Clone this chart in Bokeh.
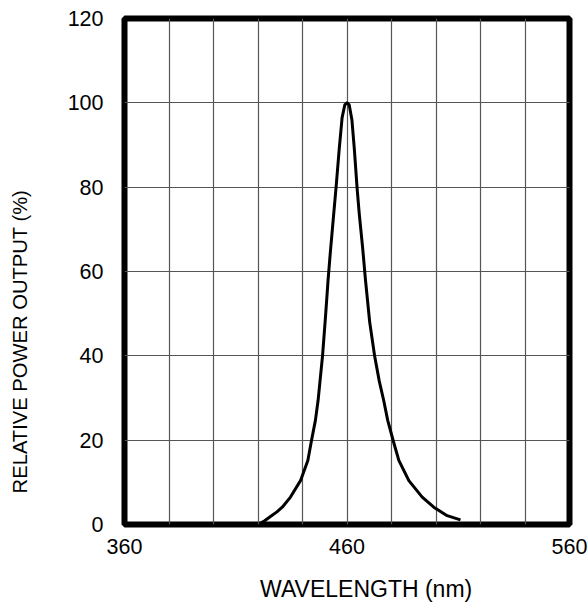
from bokeh.plotting import figure
from bokeh.models import Range1d, FixedTicker
from bokeh.embed import file_html
from bokeh.resources import INLINE

wavelength = [421, 423, 425.6, 428.5, 430.9, 434.6, 439.1, 442.4, 444, 445.8, 447, 449, 450.3,
              451.5, 452.5, 454, 455.1, 456.5, 457.8, 459, 460,
              461, 462.2, 463.3, 464.5, 465.5, 467, 468.3, 470.2, 472.4, 474.5, 476.5,
              478.3, 480.8, 483.3, 487.8, 493.8, 499, 505, 511]
power = [0.3, 0.9, 1.9, 3.0, 4.1, 6.5, 10.4, 15.2, 19.8, 24.7, 29.4, 40, 49,
         58, 64.5, 73.5, 80, 89, 96.5, 99.5, 100,
         99.5, 96, 89, 80, 73.7, 65.8, 58, 48, 40, 34, 29.4,
         24.7, 19.8, 15.2, 10.4, 6.5, 4.1, 2.1, 1.1]

x_tick_labels = [360, 460, 560]
x_grid = list(range(360, 561, 20))
y_ticks = list(range(0, 121, 20))
x_title = "WAVELENGTH (nm)"
y_title = "RELATIVE POWER OUTPUT (%)"

FONT = "Liberation Sans"
NBSP = "\u00a0"

p = figure(width=588, height=604, output_backend="svg", toolbar_location=None,
           x_range=Range1d(360, 560), y_range=Range1d(0, 120),
           min_border_left=124, min_border_right=19, min_border_top=18, min_border_bottom=80)

p.line(wavelength, power, line_color="black", line_width=3, line_join="round")

p.outline_line_color = "black"
p.outline_line_width = 6
p.outline_line_alpha = 1.0

p.xaxis.ticker = FixedTicker(ticks=x_tick_labels)
p.yaxis.ticker = FixedTicker(ticks=y_ticks)
p.xgrid.ticker = FixedTicker(ticks=x_grid)
p.ygrid.ticker = FixedTicker(ticks=y_ticks)
for g in (p.xgrid, p.ygrid):
    g.grid_line_color = "#555555"
    g.grid_line_width = 1.2
    g.grid_line_alpha = 1.0

for ax in (p.xaxis, p.yaxis):
    ax.axis_line_color = None
    ax.major_tick_line_color = None
    ax.minor_tick_line_color = None
    ax.major_tick_out = 0
    ax.major_tick_in = 0
    ax.major_label_text_font = FONT
    ax.major_label_text_font_size = "21.5px"
    ax.major_label_text_color = "black"
    ax.axis_label_text_font = FONT
    ax.axis_label_text_font_style = "normal"
    ax.axis_label_text_color = "black"

p.xaxis.major_label_standoff = 14
p.yaxis.major_label_standoff = 21

# the reference's axis titles sit off-centre; non-breaking spaces shift them
p.xaxis.axis_label = NBSP * 6 + x_title
p.yaxis.axis_label = y_title + NBSP * 25
p.xaxis.axis_label_text_font_size = "23px"
p.yaxis.axis_label_text_font_size = "20.2px"
p.xaxis.axis_label_standoff = 19
p.yaxis.axis_label_standoff = 34

open("out.html", "w").write(file_html(p, INLINE))
